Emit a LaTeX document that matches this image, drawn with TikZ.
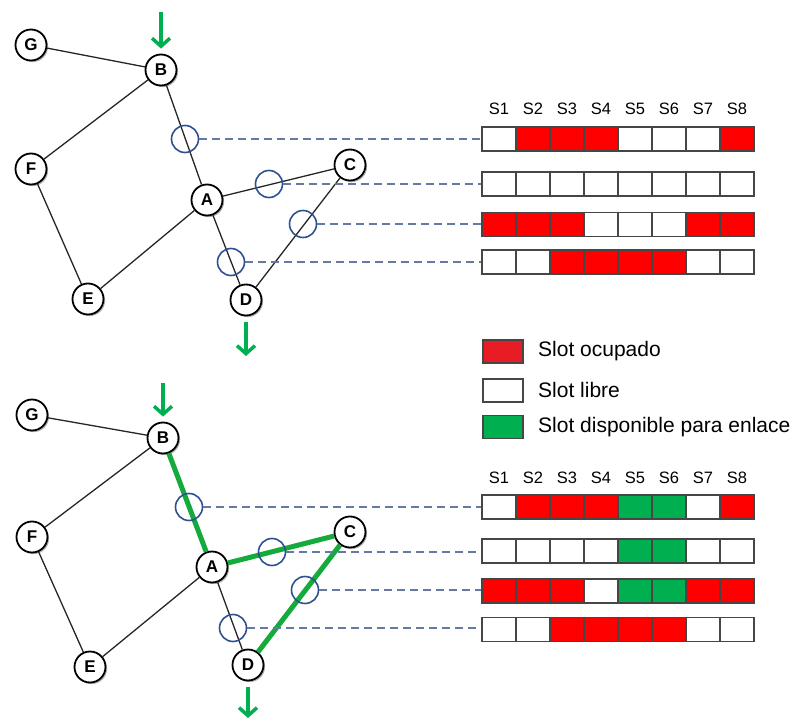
\documentclass[tikz,border=0pt]{standalone}
\usepackage{fontspec}
\setmainfont{Liberation Sans}
\usetikzlibrary{arrows.meta,shadows}
\definecolor{slR}{RGB}{255,0,0}
\definecolor{slW}{RGB}{255,255,255}
\definecolor{slG}{RGB}{0,176,80}
\definecolor{legR}{RGB}{232,28,36}
\definecolor{arrG}{RGB}{0,176,80}
\definecolor{pathG}{RGB}{20,170,60}
\definecolor{ringB}{RGB}{45,80,145}
\definecolor{dashB}{RGB}{100,122,165}
\definecolor{cellB}{RGB}{70,70,70}
\begin{document}
\begin{tikzpicture}[x=1pt,y=-1pt,
  vertex/.style={circle,draw=black,line width=1.8pt,fill=white,minimum size=31pt,inner sep=0pt,
     font=\fontsize{17}{17}\selectfont\bfseries,
     drop shadow={shadow xshift=1.6pt,shadow yshift=-1.6pt,fill=black!55,opacity=.55}},
  edge/.style={line width=1.3pt,draw=black!85},
  gpath/.style={line width=5pt,draw=pathG},
  ring/.style={circle,draw=ringB,line width=1.6pt,minimum size=27pt,inner sep=0pt},
  dashline/.style={draw=dashB,line width=1.6pt,dash pattern=on 8pt off 5pt},
  cell/.style={draw=cellB,line width=1.4pt,minimum width=34pt,minimum height=24pt,inner sep=0pt},
  flow/.style={draw=arrG,line width=3.5pt,-{Straight Barb[length=8pt,width=18pt]}},
  hdr/.style={font=\fontsize{16.5}{16.5}\selectfont},
  legbox/.style={draw=cellB,line width=1.2pt,minimum width=40pt,minimum height=23pt,inner sep=0pt},
  legtxt/.style={anchor=west,inner sep=0pt,font=\fontsize{21}{21}\selectfont}]
\useasboundingbox (0,0) rectangle (803,719);

% ---------- top graph ----------
\node[vertex] (G1) at (31,45) {G};
\node[vertex] (B1) at (161,70) {B};
\node[vertex] (F1) at (31,169) {F};
\node[vertex] (A1) at (207,200) {A};
\node[vertex] (C1) at (350,165) {C};
\node[vertex] (E1) at (88,299) {E};
\node[vertex] (D1) at (246,300) {D};
\draw[edge] (G1) -- (B1);
\draw[edge] (B1) -- (F1);
\draw[edge] (F1) -- (E1);
\draw[edge] (E1) -- (A1);
\draw[edge] (B1) -- (A1);
\draw[edge] (A1) -- (C1);
\draw[edge] (A1) -- (D1);
\draw[edge] (C1) -- (D1);
\coordinate (inT) at (161,12);
\coordinate (outT) at (246,356);
\draw[flow,shorten >=5pt] (inT) -- (B1);
\draw[flow,shorten <=6pt] (D1) -- (outT);

\node[ring] (r11) at (185,139) {};
\node[ring] (r12) at (269,184) {};
\node[ring] (r13) at (303,224) {};
\node[ring] (r14) at (231,262) {};

% ---------- top table ----------
\foreach \lbl [count=\i] in {S1,S2,S3,S4,S5,S6,S7,S8}
  \node[hdr] (h1c\i) at ({499+34*(\i-1)},109) {\lbl};
\foreach \c [count=\i] in {slW,slR,slR,slR,slW,slW,slW,slR}
  \node[cell,fill=\c] (t1a\i) at ({499+34*(\i-1)},139) {};
\foreach \c [count=\i] in {slW,slW,slW,slW,slW,slW,slW,slW}
  \node[cell,fill=\c] (t1b\i) at ({499+34*(\i-1)},184) {};
\foreach \c [count=\i] in {slR,slR,slR,slW,slW,slW,slR,slR}
  \node[cell,fill=\c] (t1c\i) at ({499+34*(\i-1)},224.5) {};
\foreach \c [count=\i] in {slW,slW,slR,slR,slR,slR,slW,slW}
  \node[cell,fill=\c] (t1d\i) at ({499+34*(\i-1)},262) {};

\draw[dashline] (r11.east) -- (r11.east -| t1a1.west);
\draw[dashline] (r12.east) -- (r12.east -| t1b1.west);
\draw[dashline] (r13.east) -- (r13.east -| t1c1.west);
\draw[dashline] (r14.east) -- (r14.east -| t1d1.west);

% ---------- legend ----------
\node[legbox,fill=legR] (lr) at (503,351.5) {};
\node[legbox,fill=white] (lw) at (503,390.5) {};
\node[legbox,fill=slG] (lg) at (503,427) {};
\node[legtxt] (lrt) at (538,351) {Slot ocupado};
\node[legtxt] (lwt) at (538,390) {Slot libre};
\node[legtxt] (lgt) at (538,427) {Slot disponible para enlace};

% ---------- bottom graph ----------
\node[vertex] (G2) at (32,415) {G};
\node[vertex] (B2) at (163,438) {B};
\node[vertex] (F2) at (32,537) {F};
\node[vertex] (A2) at (212,567) {A};
\node[vertex] (C2) at (350,532) {C};
\node[vertex] (E2) at (90,667) {E};
\node[vertex] (D2) at (248,665) {D};
\draw[edge] (G2) -- (B2);
\draw[edge] (B2) -- (F2);
\draw[edge] (F2) -- (E2);
\draw[edge] (E2) -- (A2);
\draw[edge] (A2) -- (D2);
\draw[gpath] (B2) -- (A2);
\draw[gpath] (A2) -- (C2);
\draw[gpath] (C2) -- (D2);
\coordinate (inB) at (163,383);
\coordinate (outB) at (248,718);
\draw[flow,shorten >=5pt] (inB) -- (B2);
\draw[flow,shorten <=6pt] (D2) -- (outB);

\node[ring] (r21) at (189,507) {};
\node[ring] (r22) at (272,552) {};
\node[ring] (r23) at (305,590) {};
\node[ring] (r24) at (233,628) {};

% ---------- bottom table ----------
\foreach \lbl [count=\i] in {S1,S2,S3,S4,S5,S6,S7,S8}
  \node[hdr] (h2c\i) at ({499+34*(\i-1)},478) {\lbl};
\foreach \c [count=\i] in {slW,slR,slR,slR,slG,slG,slW,slR}
  \node[cell,fill=\c] (t2a\i) at ({499+34*(\i-1)},507) {};
\foreach \c [count=\i] in {slW,slW,slW,slW,slG,slG,slW,slW}
  \node[cell,fill=\c] (t2b\i) at ({499+34*(\i-1)},551) {};
\foreach \c [count=\i] in {slR,slR,slR,slW,slG,slG,slR,slR}
  \node[cell,fill=\c] (t2c\i) at ({499+34*(\i-1)},591) {};
\foreach \c [count=\i] in {slW,slW,slR,slR,slR,slR,slW,slW}
  \node[cell,fill=\c] (t2d\i) at ({499+34*(\i-1)},629.5) {};

\draw[dashline] (r21.east) -- (r21.east -| t2a1.west);
\draw[dashline] (r22.east) -- (r22.east -| t2b1.west);
\draw[dashline] (r23.east) -- (r23.east -| t2c1.west);
\draw[dashline] (r24.east) -- (r24.east -| t2d1.west);
\end{tikzpicture}
\end{document}
